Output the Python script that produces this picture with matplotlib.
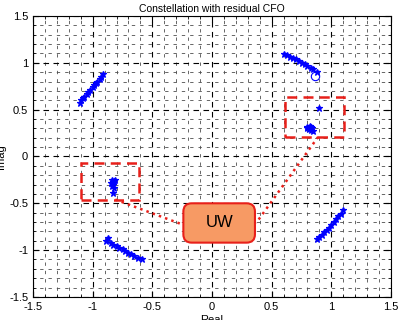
import numpy as np
import matplotlib.pyplot as plt
from matplotlib.patches import FancyBboxPatch, Rectangle
from matplotlib.ticker import MultipleLocator, FormatStrFormatter

plt.rcParams['font.family'] = ['Liberation Sans', 'DejaVu Sans']
plt.rcParams['axes.unicode_minus'] = False

# constellation clusters
tl_re = [-1.11, -1.10, -1.08, -1.07, -1.05, -1.04, -1.02, -1.00, -0.99, -0.97, -0.96, -0.94, -0.93, -0.91]
tl_im = [0.57, 0.60, 0.62, 0.64, 0.67, 0.69, 0.71, 0.74, 0.76, 0.78, 0.80, 0.83, 0.85, 0.88]
tr_re = [0.60, 0.63, 0.65, 0.68, 0.70, 0.73, 0.75, 0.78, 0.80, 0.83, 0.85, 0.88]
tr_im = [1.09, 1.08, 1.06, 1.05, 1.04, 1.02, 1.00, 0.99, 0.97, 0.95, 0.93, 0.90]
bl_re = [-0.89, -0.87, -0.85, -0.83, -0.80, -0.78, -0.75, -0.73, -0.70, -0.68, -0.65, -0.62, -0.59]
bl_im = [-0.90, -0.87, -0.92, -0.94, -0.96, -0.98, -0.99, -1.01, -1.03, -1.04, -1.06, -1.08, -1.10]
br_re = [0.88, 0.90, 0.92, 0.94, 0.96, 0.98, 1.00, 1.02, 1.04, 1.06, 1.08, 1.10]
br_im = [-0.88, -0.86, -0.84, -0.81, -0.79, -0.76, -0.73, -0.70, -0.67, -0.64, -0.61, -0.57]
first_re, first_im = 0.86, 0.86

# unique word symbols
uw_r_re = [0.90, 0.80, 0.81, 0.82, 0.83, 0.84, 0.82, 0.85, 0.80, 0.83]
uw_r_im = [0.52, 0.32, 0.29, 0.31, 0.28, 0.30, 0.33, 0.27, 0.30, 0.31]
uw_l_re = [-0.84, -0.83, -0.82, -0.85, -0.83, -0.82, -0.83, -0.81, -0.84]
uw_l_im = [-0.25, -0.27, -0.26, -0.28, -0.30, -0.34, -0.39, -0.25, -0.31]

# annotation boxes
box_r = (0.61, 0.21, 1.11, 0.63)
box_l = (-1.10, -0.47, -0.61, -0.07)
uw_box = (-0.24, -0.92, 0.36, -0.50)

fig = plt.figure(figsize=(4, 3.2), dpi=100)
ax = fig.add_axes([0.0825, 0.072, 0.895, 0.878])

ax.set_xlim(-1.5, 1.5)
ax.set_ylim(-1.5, 1.5)
ax.xaxis.set_major_locator(MultipleLocator(0.5))
ax.yaxis.set_major_locator(MultipleLocator(0.5))
ax.xaxis.set_minor_locator(MultipleLocator(0.1))
ax.yaxis.set_minor_locator(MultipleLocator(0.1))
ax.xaxis.set_major_formatter(FormatStrFormatter('%g'))
ax.yaxis.set_major_formatter(FormatStrFormatter('%g'))
ax.tick_params(which='both', direction='in', top=True, right=True, labelsize=8)
ax.tick_params(which='major', length=4)
ax.tick_params(which='minor', length=2)
ax.grid(which='major', ls=(0, (5, 4)), color='k', lw=0.8)
ax.grid(which='minor', ls=(2, (4, 6)), color='0.3', lw=0.6)
ax.set_axisbelow(True)

for re, im in [(tl_re, tl_im), (tr_re, tr_im), (bl_re, bl_im), (br_re, br_im),
               (uw_r_re, uw_r_im), (uw_l_re, uw_l_im)]:
    ax.plot(re, im, '*', color='b', ms=5, mew=0.9)
ax.plot(first_re, first_im, 'o', mfc='none', mec='b', ms=6, mew=0.8)

for x0, y0, x1, y1 in [box_r, box_l]:
    ax.add_patch(Rectangle((x0, y0), x1 - x0, y1 - y0, fill=False,
                           ec='#e8201a', lw=1.8, ls=(0, (4, 2.5)), zorder=4))

ax.plot([-0.81, -0.24], [-0.46, -0.73], ':', color='#e8201a', lw=1.8, zorder=4)
ax.plot([0.89, 0.37], [0.21, -0.71], ':', color='#e8201a', lw=1.8, zorder=4)

x0, y0, x1, y1 = uw_box
ax.add_patch(FancyBboxPatch((x0, y0), x1 - x0, y1 - y0,
                            boxstyle='round,pad=0,rounding_size=0.07',
                            mutation_aspect=1.27, fc='#f79a64', ec='#e8201a',
                            lw=1.5, zorder=5))
ax.text((x0 + x1) / 2, (y0 + y1) / 2, 'UW', ha='center', va='center',
        fontsize=12, zorder=6)

ax.set_title('Constellation with residual CFO', fontsize=7.5, pad=3)
ax.set_xlabel('Real', fontsize=8, labelpad=2)
ax.set_ylabel('Imag', fontsize=8, labelpad=2)

fig.savefig('out.png', dpi=100)
